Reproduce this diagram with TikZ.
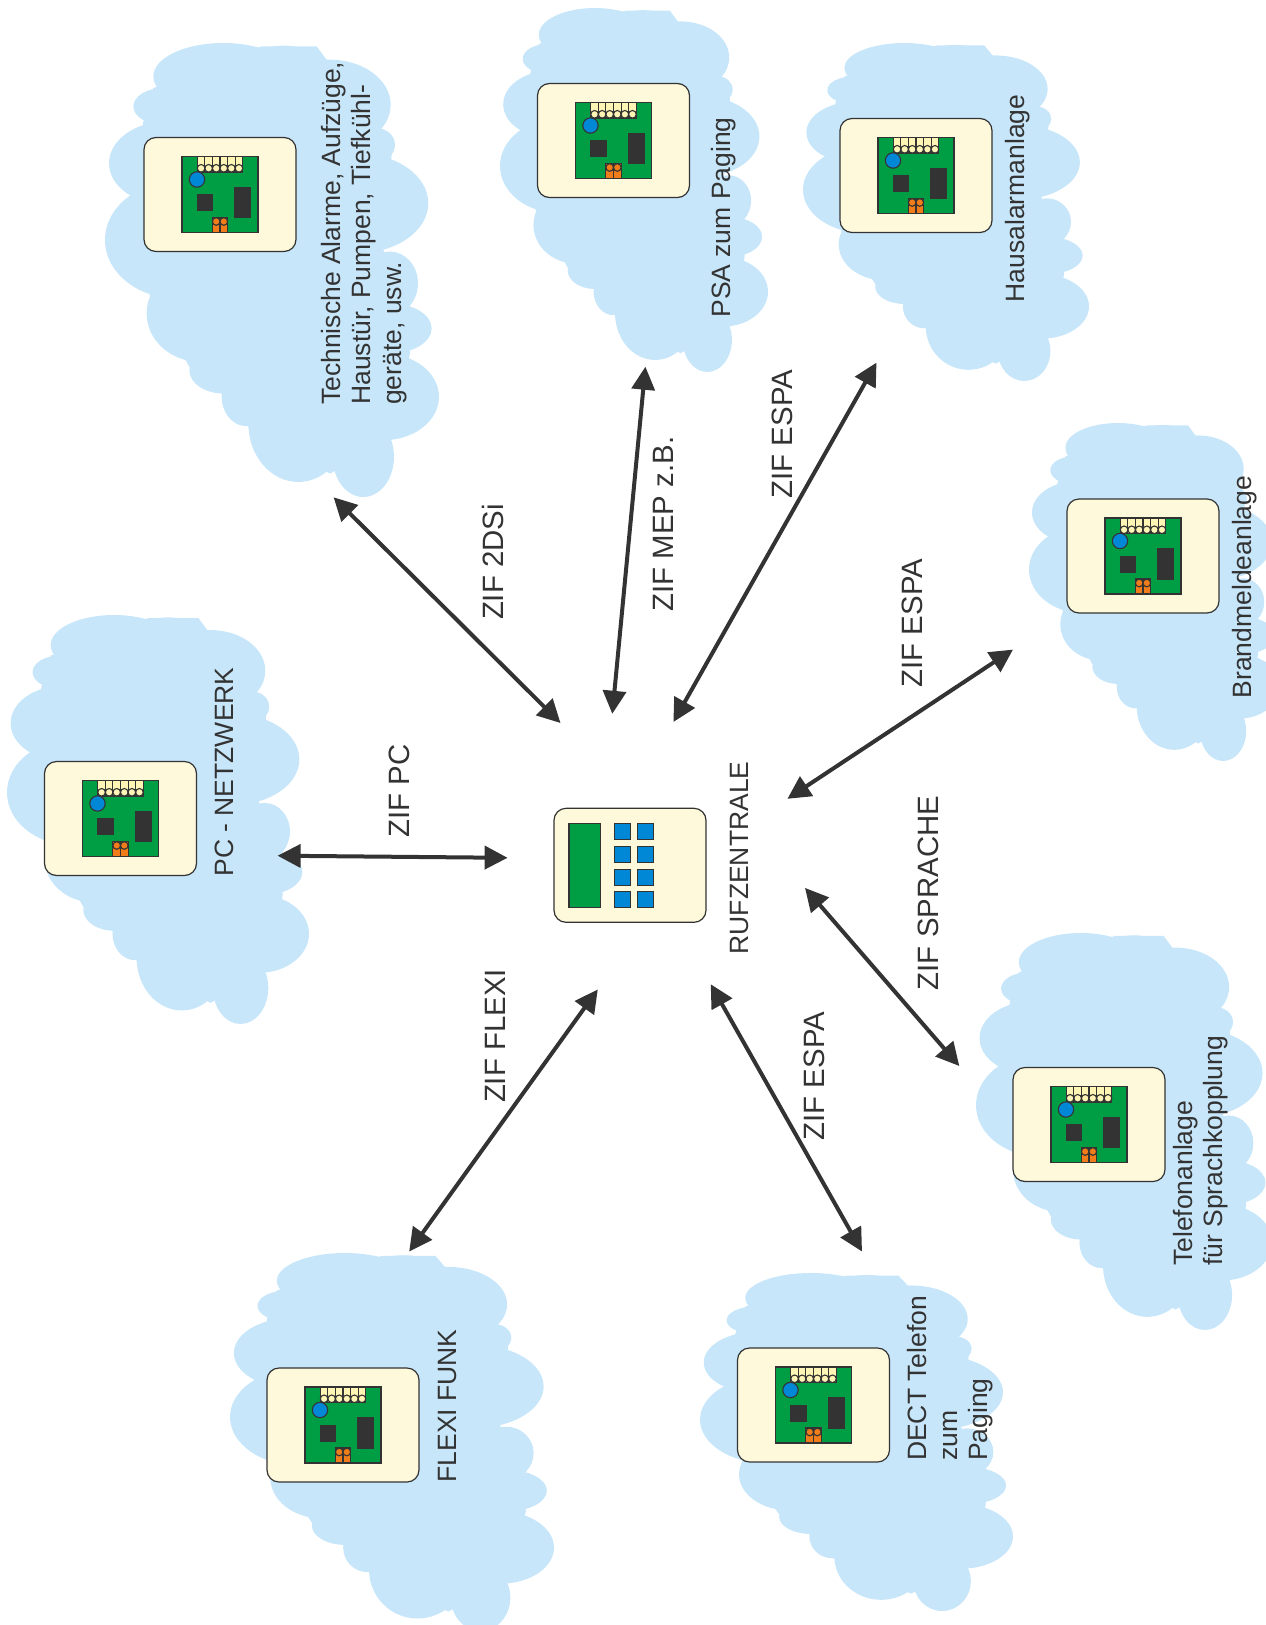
\documentclass[tikz,border=0pt]{standalone}
\usepackage{fontspec}
\setmainfont{Liberation Sans}
\usetikzlibrary{arrows.meta}

\definecolor{cloudblue}{HTML}{C7E6FA}
\definecolor{cardcream}{HTML}{FFF9DB}
\definecolor{pcbgreen}{HTML}{009E44}
\definecolor{keyblue}{HTML}{0088D6}
\definecolor{termorange}{HTML}{F07D1A}
\definecolor{termcream}{HTML}{FFF5B5}
\definecolor{darkgrey}{HTML}{333333}

\tikzset{
  cardbox/.style={draw=darkgrey, line width=1.2pt, fill=cardcream, rounded corners=12pt,
    minimum width=152pt, minimum height=114pt, inner sep=0pt},
  partline/.style={draw=darkgrey, line width=1.1pt},
  linktext/.style={rotate=90, text=darkgrey, inner sep=0pt, font=\fontsize{29.4}{33}\selectfont},
  nametext/.style={rotate=90, text=darkgrey, inner sep=0pt, align=left, font=\fontsize{26.5}{30.5}\selectfont},
  linkarrow/.style={draw=darkgrey, line width=4pt,
    {Triangle[length=23pt,width=23pt]}-{Triangle[length=23pt,width=23pt]}},
  pcbcard/.pic={
    \node (-box) [cardbox] at (0,0) {};
    % Board
    \draw [partline, fill=pcbgreen] (-38,-38) rectangle (38,38);
    % Terminal row
    \foreach \i in {0,...,5} {
      \draw [partline, fill=termcream] (-22.7+7.57*\i,-38) rectangle (-15.13+7.57*\i,-22.5);
      \draw [partline, fill=termcream] (-18.9+7.57*\i,-26.2) circle [radius=3.8];
    }
    % Parts
    \draw [partline, fill=keyblue] (-23,-15) circle [radius=7.7];
    \draw [draw=darkgrey, fill=darkgrey] (-23,0) rectangle (-7.5,16);
    \draw [draw=darkgrey, fill=darkgrey] (14.5,-7.5) rectangle (30.5,23);
    % Plug
    \draw [partline, fill=termorange] (-7.7,23) rectangle (0,38);
    \draw [partline, fill=termorange] (0,23) rectangle (7.7,38);
    \draw [partline, fill=termorange] (-3.8,27) circle [radius=3.8];
    \draw [partline, fill=termorange] (3.8,27) circle [radius=3.8];
  },
  panelcard/.pic={
    \node (-box) [cardbox] at (0,0) {};
    \draw [partline, fill=pcbgreen] (-61,-41.5) rectangle (-29.7,42.5);
    \foreach \cx in {-15.7,7.3} {
      \foreach \i in {0,...,3} {
        \draw [partline, fill=keyblue] (\cx,-41.5+22.7*\i) rectangle (\cx+16,-25.5+22.7*\i);
      }
    }
  },
}

% left, top, width, height of one cloud
\newcommand{\cloudat}[4]{
  \begin{scope}[shift={(#1,#2)}, xscale=#3/1002, yscale=#4/1360]
    % body through the notches
    \fill [cloudblue] (635,10) -- (820,260) -- (860,335) -- (835,620) -- (900,780) -- (915,930)
      -- (860,1185) -- (675,1290) -- (430,1148) -- (350,1050) -- (253,970) -- (135,760)
      -- (80,460) -- (115,235) -- (145,135) -- (470,10) -- cycle;
    \foreach \px/\py/\ra/\rb in {
      400/170/210/100, 580/120/95/42, 720/255/182/135, 860/375/55/50,
      800/550/215/150, 900/790/84/95, 900/925/125/75, 880/1130/167/130,
      820/1310/92/120, 625/1210/150/175, 470/1130/75/88, 400/1050/102/70,
      330/880/160/145, 260/660/215/175, 232/430/175/125, 220/260/90/55} {
      \fill [cloudblue] (\px-45,\py-70) ellipse [x radius=\ra, y radius=\rb];
    }
  \end{scope}
}

\begin{document}
\begin{tikzpicture}[x=1pt,y=-1pt]
  \clip (0,0) rectangle (1266,1625);

  % Clouds
  \cloudat{105}{43}{334}{454}
  \cloudat{500}{8}{268}{364}
  \cloudat{803}{43}{286}{338}
  \cloudat{1029}{423}{251}{338}
  \cloudat{976}{933}{296}{397}
  \cloudat{700}{1273}{313}{338}
  \cloudat{230}{1253}{324}{378}
  \cloudat{7}{615}{302}{409}

  % Cards
  \pic (cardTechnik) at (220,194.5) {pcbcard};
  \pic (cardPsa) at (613.5,140.5) {pcbcard};
  \pic (cardHaus) at (916,175.5) {pcbcard};
  \pic (cardBrand) at (1143,556) {pcbcard};
  \pic (cardTelefon) at (1089,1124.5) {pcbcard};
  \pic (cardDect) at (813.5,1405) {pcbcard};
  \pic (cardFlexi) at (343,1425) {pcbcard};
  \pic (cardPc) at (120.5,818.5) {pcbcard};
  \pic (cardZentrale) at (630,865.3) {panelcard};

  % Names
  \node (nameTechnik) [nametext, anchor=west] at (364,405) {Technische Alarme, Aufzüge,\\Haustür, Pumpen, Tiefkühl-\\geräte, usw.};
  \node (namePsa) [nametext] at (724,217.5) {PSA zum Paging};
  \node (nameHaus) [nametext] at (1018,198.5) {Hausalarmanlage};
  \node (nameBrand) [nametext] at (1245,587) {Brandmeldeanlage};
  \node (nameTelefon) [nametext, anchor=west] at (1200.5,1266) {Telefonanlage\\für Sprachkopplung};
  \node (nameDect) [nametext, anchor=west] at (950.5,1461) {DECT Telefon\\zum\\Paging};
  \node (nameFlexi) [nametext] at (447.5,1406) {FLEXI FUNK};
  \node (namePc) [nametext] at (224.5,772) {PC - NETZWERK};
  \node (nameZentrale) [nametext] at (739.5,858) {RUFZENTRALE};

  % Link labels
  \node (zifTechnik) [linktext] at (492.5,562) {ZIF 2DSi};
  \node (zifPsa) [linktext] at (663.5,524) {ZIF MEP z.B.};
  \node (zifHaus) [linktext] at (782.5,434) {ZIF ESPA};
  \node (zifBrand) [linktext] at (912.5,623) {ZIF ESPA};
  \node (zifTelefon) [linktext] at (928.5,893) {ZIF SPRACHE};
  \node (zifDect) [linktext] at (814.5,1076) {ZIF ESPA};
  \node (zifFlexi) [linktext] at (495,1036) {ZIF FLEXI};
  \node (zifPc) [linktext] at (399.5,791) {ZIF PC};

  % Link ends
  \coordinate (endTechnik) at (333.6,497.3);
  \coordinate (hubTechnik) at (560.5,723);
  \coordinate (endPsa) at (645.4,366.7);
  \coordinate (hubPsa) at (612.3,713.8);
  \coordinate (endHaus) at (876.5,362.6);
  \coordinate (hubHaus) at (673.4,722);
  \coordinate (endBrand) at (1013,649.6);
  \coordinate (hubBrand) at (787.4,798.8);
  \coordinate (endTelefon) at (959.3,1066);
  \coordinate (hubTelefon) at (805,887.9);
  \coordinate (endDect) at (862,1251.5);
  \coordinate (hubDect) at (710.7,984.2);
  \coordinate (endFlexi) at (409.2,1251.5);
  \coordinate (hubFlexi) at (597.8,989.4);
  \coordinate (endPc) at (277.6,855.7);
  \coordinate (hubPc) at (507.6,857.8);

  % Links
  \foreach \ln in {Technik,Psa,Haus,Brand,Telefon,Dect,Flexi,Pc} {
    \draw [linkarrow] (end\ln) -- (hub\ln);
  }
\end{tikzpicture}
\end{document}
